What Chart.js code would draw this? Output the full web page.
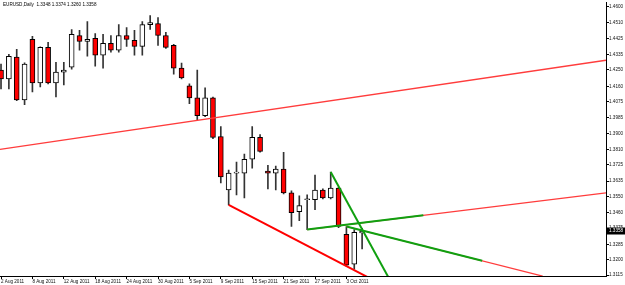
<!DOCTYPE html>
<html><head><meta charset="utf-8">
<script src="https://cdn.jsdelivr.net/npm/chart.js@4/dist/chart.umd.min.js"></script>
<style>html,body{margin:0;padding:0;background:#fff;overflow:hidden}canvas{display:block}</style>
</head><body>
<canvas id="c" width="625" height="285"></canvas>
<script>
const symbol = 'EURUSD,Daily';
const dates = ['2 Aug','3 Aug','4 Aug','5 Aug','8 Aug','9 Aug','10 Aug','11 Aug','12 Aug','15 Aug','16 Aug','17 Aug','18 Aug','19 Aug','22 Aug','23 Aug','24 Aug','25 Aug','26 Aug','29 Aug','30 Aug','31 Aug','1 Sep','2 Sep','5 Sep','6 Sep','7 Sep','8 Sep','9 Sep','12 Sep','13 Sep','14 Sep','15 Sep','16 Sep','19 Sep','20 Sep','21 Sep','22 Sep','23 Sep','26 Sep','27 Sep','28 Sep','29 Sep','30 Sep','3 Oct','4 Oct','5 Oct'];
const open  = [1.4249,1.4200,1.4321,1.4085,1.4419,1.4178,1.4375,1.4178,1.4238,1.4266,1.4441,1.4408,1.4425,1.4332,1.4397,1.4359,1.4441,1.4414,1.4381,1.4501,1.4507,1.4441,1.4386,1.4260,1.4162,1.4096,1.3997,1.4096,1.3882,1.3586,1.3679,1.3679,1.3756,1.3877,1.3690,1.3679,1.3701,1.3570,1.3466,1.3532,1.3532,1.3586,1.3542,1.3597,1.3340,1.3175,1.3348];
const high  = [1.4282,1.4337,1.4364,1.4290,1.4436,1.4378,1.4403,1.4293,1.4293,1.4474,1.4469,1.4518,1.4452,1.4447,1.4441,1.4501,1.4485,1.4469,1.4518,1.4551,1.4540,1.4458,1.4392,1.4288,1.4173,1.4249,1.4151,1.4100,1.3937,1.3696,1.3740,1.3784,1.3937,1.3893,1.3723,1.3718,1.3795,1.3581,1.3553,1.3559,1.3669,1.3592,1.3685,1.3600,1.3384,1.3367,1.3374];
const low   = [1.4145,1.4145,1.4080,1.4058,1.4129,1.4156,1.4173,1.4101,1.4167,1.4255,1.4359,1.4326,1.4271,1.4260,1.4348,1.4348,1.4381,1.4332,1.4332,1.4474,1.4386,1.4370,1.4227,1.4200,1.4063,1.3975,1.3992,1.3870,1.3625,1.3504,1.3559,1.3542,1.3707,1.3795,1.3592,1.3586,1.3564,1.3384,1.3416,1.3367,1.3477,1.3537,1.3537,1.3378,1.3165,1.3148,1.3260];
const close = [1.4200,1.4326,1.4085,1.4282,1.4178,1.4375,1.4178,1.4238,1.4249,1.4447,1.4408,1.4419,1.4332,1.4397,1.4359,1.4441,1.4419,1.4381,1.4501,1.4512,1.4441,1.4375,1.4260,1.4206,1.4096,1.3997,1.4096,1.3877,1.3658,1.3679,1.3685,1.3756,1.3877,1.3800,1.3679,1.3701,1.3570,1.3460,1.3499,1.3535,1.3586,1.3542,1.3597,1.3384,1.3170,1.3351,1.3358];

const xTickIdx = [0,4,8,12,16,20,24,28,32,36,40,44];
const xTickLabels = ['2 Aug 2011','8 Aug 2011','12 Aug 2011','18 Aug 2011','24 Aug 2011','30 Aug 2011','5 Sep 2011','9 Sep 2011','15 Sep 2011','21 Sep 2011','27 Sep 2011','3 Oct 2011'];
const yTicks = [1.4600,1.4510,1.4425,1.4335,1.4250,1.4160,1.4075,1.3985,1.3900,1.3810,1.3725,1.3635,1.3550,1.3460,1.3375,1.3285,1.3200,1.3115];
const lastPrice = 1.3358;

// trend lines as [bar index, price] end points
const lineUpperRed   = [[-0.13,1.3811],[77.07,1.4304]];
const lineLowerRed   = [[29,1.3504],[47,1.3097]];
const lineFanRedA    = [[39,1.3367],[77.07,1.3570]];
const lineFanGreenA  = [[39,1.3367],[53.8,1.3446]];
const lineFanRedB    = [[44,1.3384],[69,1.3109]];
const lineFanGreenB  = [[44,1.3384],[61.3,1.3194]];
const lineSteepGreen = [[42,1.3685],[49.5,1.3091]];

const FONT = '"Liberation Sans", Arial, sans-serif';
const idx = dates.map((d,i)=>i);
const bodies = idx.map(i=>({x:i, y:[open[i], close[i]]}));
const wicks  = idx.map(i=>({x:i, y:[low[i], high[i]]}));
const bodyColors = idx.map(i=> close[i] >= open[i] ? '#ffffff' : '#ff0000');
const pts = a => a.map(p=>({x:p[0], y:p[1]}));
const lineDs = (a, color, w, ord) => ({type:'line', data:pts(a), borderColor:color, borderWidth:w, pointRadius:0, tension:0, fill:false, clip:0, order:ord});

const overlay = {
  id:'overlay',
  afterDraw(chart){
    const ctx = chart.ctx, ys = chart.scales.y;
    ctx.save();
    ctx.font = '4.6px ' + FONT;
    ctx.textBaseline = 'middle'; ctx.textAlign = 'left';
    ctx.fillStyle = '#000';
    const title = symbol + '  ' + [open[46],high[46],low[46],close[46]].map(v=>v.toFixed(4)).join(' ');
    ctx.fillText(title, 3, 5);
    const py = ys.getPixelForValue(lastPrice);
    ctx.fillStyle = '#000';
    ctx.fillRect(ys.left + 1, Math.round(py) - 3.5, 19, 7);
    ctx.fillStyle = '#fff';
    ctx.fillText(lastPrice.toFixed(4), ys.left + 3, py);
    ctx.restore();
  }
};

new Chart(document.getElementById('c'), {
  type:'bar',
  data:{ datasets:[
    lineDs(lineFanGreenA, '#10a010', 2, -1),
    lineDs(lineFanGreenB, '#10a010', 2, -1),
    lineDs(lineSteepGreen, '#10a010', 2, -1),
    lineDs(lineUpperRed, 'rgb(255,60,60)', 1.3, 0),
    lineDs(lineLowerRed, '#ff0000', 2, 0),
    lineDs(lineFanRedA, 'rgb(255,60,60)', 1.2, 0),
    lineDs(lineFanRedB, 'rgb(255,60,60)', 1.2, 0),
    {type:'bar', data:bodies, backgroundColor:bodyColors, borderColor:'#000', borderWidth:1, borderSkipped:false, barThickness:5, grouped:false, minBarLength:1, order:1},
    {type:'bar', data:wicks, backgroundColor:'#333', borderWidth:0, barThickness:1, grouped:false, order:2}
  ]},
  options:{
    responsive:false, animation:false, devicePixelRatio:1,
    layout:{padding:0},
    plugins:{legend:{display:false}, tooltip:{enabled:false}},
    scales:{
      x:{type:'linear', min:-0.13, max:77.07, offset:false,
        grid:{display:true, offset:false, drawOnChartArea:false, drawTicks:true, tickLength:3, color:'#000', lineWidth:1},
        border:{display:true, color:'#000', width:1},
        ticks:{autoSkip:false, maxRotation:0, minRotation:0, align:'start', padding:0, color:'#111', font:{family:FONT, size:4.6},
          callback:(v)=>{const k=xTickIdx.indexOf(v); return k>=0?xTickLabels[k]:'';}},
        afterBuildTicks:s=>{s.ticks = xTickIdx.map(v=>({value:v}));},
        afterFit:s=>{s.height = 9;}
      },
      y:{type:'linear', position:'right', min:1.3110, max:1.4622,
        grid:{display:true, drawOnChartArea:false, drawTicks:true, tickLength:3, color:'#000', lineWidth:1},
        border:{display:true, color:'#000', width:1},
        ticks:{autoSkip:false, padding:0, color:'#111', font:{family:FONT, size:4.6},
          callback:(v)=>Number(v).toFixed(4)},
        afterBuildTicks:s=>{s.ticks = yTicks.map(v=>({value:v}));},
        afterFit:s=>{s.width = 19;}
      }
    }
  },
  plugins:[overlay]
});
</script>
</body></html>
